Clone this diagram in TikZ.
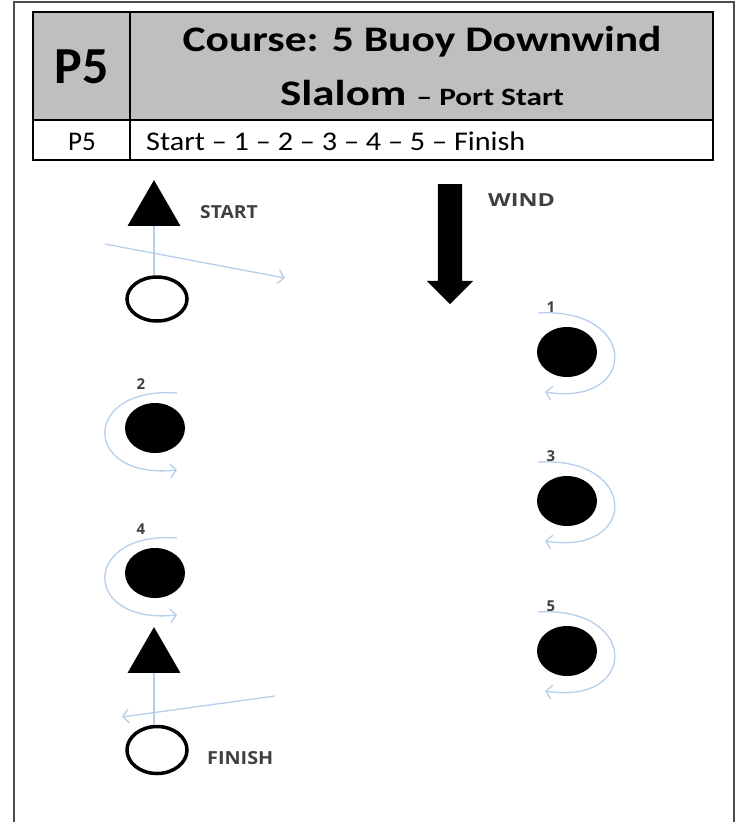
\documentclass[tikz,border=0pt]{standalone}
\usepackage{fontspec}
\setmainfont{Carlito}
\newfontfamily\markfont{Open Sans}
\usepackage{graphicx}
\usepackage{tikz}
\usetikzlibrary{shapes.geometric, shapes.arrows, arrows.meta}

\definecolor{headgray}{RGB}{191,191,191}
\definecolor{pathblue}{RGB}{180,206,236}
\definecolor{labelgray}{RGB}{64,64,64}

\newcommand{\spreadtext}[2]{\scalebox{#1}[1]{#2}}

\begin{document}
\begin{tikzpicture}[x=1pt, y=-1pt,
    buoy/.style={ellipse, fill=black, minimum width=60pt, minimum height=50pt, inner sep=0pt},
    gate/.style={ellipse, draw=black, line width=3.5pt, minimum width=60pt, minimum height=44pt, inner sep=0pt},
    flag/.style={regular polygon, regular polygon sides=3, fill=black, minimum size=61pt, inner sep=0pt},
    route/.style={draw=pathblue, line width=1.3pt, -{Straight Barb[length=6pt, width=14pt]}},
    tag/.style={font=\markfont\bfseries\fontsize{18}{18}\selectfont, text=labelgray, inner sep=0pt},
    num/.style={font=\markfont\bfseries\fontsize{15}{15}\selectfont, text=labelgray, inner sep=0pt}]

    \useasboundingbox (0,0) rectangle (737,822);
    \draw[line width=2pt, draw=black!70] (14,822) -- (14,2) -- (734,2) -- (734,822);

    \fill[headgray] (33,12) rectangle (713,120);
    \draw[line width=1.2pt] (33,12) rectangle (713,160);
    \draw[line width=1.2pt] (33,120) -- (713,120);
    \draw[line width=1.2pt] (130,12) -- (130,160);

    \node[font=\bfseries\fontsize{52}{52}\selectfont, anchor=base] (code) at (81.5,83) {P5};
    \node[font=\bfseries\fontsize{36}{36}\selectfont, anchor=base] (title) at (422,51) {\spreadtext{1.21}{Course: 5 Buoy Downwind}};
    \node[font=\bfseries\fontsize{36}{36}\selectfont, anchor=base] (subtitle) at (422,105) {\spreadtext{1.25}{Slalom {\fontsize{25}{25}\selectfont -- Port Start}}};
    \node[font=\fontsize{27}{27}\selectfont, anchor=base] (rowcode) at (82,150) {P5};
    \node[font=\fontsize{27}{27}\selectfont, anchor=base west, inner sep=0pt] (order) at (146,150) {\spreadtext{1.12}{Start -- 1 -- 2 -- 3 -- 4 -- 5 -- Finish}};

    \node[flag] (startflag) at (154,210.6) {};
    \node[tag, anchor=base west] (startlabel) at (200,218) {\spreadtext{1.07}{START}};
    \node[gate] (startgate) at (157,299) {};
    \draw[pathblue, line width=1.3pt] (startflag.side 2) -- (startflag.side 2 |- startgate.north);
    \coordinate (startA) at (105,244);
    \coordinate (startB) at (285,278);
    \draw[route] (startA) -- (startB);

    \node[single arrow, fill=black, shape border rotate=270, minimum height=120pt,
          minimum width=46pt, single arrow head extend=11pt, inner sep=12pt] (wind) at (450,238) {};
    \node[tag, anchor=base west] (windlabel) at (488,206) {\spreadtext{1.3}{WIND}};

    \node[buoy] (b1) at (567,352) {};
    \node[buoy] (b3) at (567,501) {};
    \node[buoy] (b5) at (567,651) {};
    \node[buoy] (b2) at (155,428) {};
    \node[buoy] (b4) at (155,573) {};

    \foreach \b in {1,3,5} {
        \node[num] (n\b) at ([shift={(-16,-45)}]b\b.center) {\b};
        \draw[route] ([shift={(-29,-39)}]b\b.center) .. controls ([shift={(72,-45)}]b\b.center)
            and ([shift={(72,55)}]b\b.center) .. ([shift={(-22,40)}]b\b.center);
    }
    \foreach \b in {2,4} {
        \node[num] (n\b) at ([shift={(-14,-44)}]b\b.center) {\b};
        \draw[route] ([shift={(22,-35)}]b\b.center) .. controls ([shift={(-74,-42)}]b\b.center)
            and ([shift={(-74,52)}]b\b.center) .. ([shift={(22,42)}]b\b.center);
    }

    \node[flag] (finishflag) at (154,657.6) {};
    \node[gate, minimum height=47pt] (finishgate) at (157,750) {};
    \node[tag, anchor=base west] (finishlabel) at (207,764) {\spreadtext{1.1}{FINISH}};
    \draw[pathblue, line width=1.3pt] (finishflag.side 2) -- (finishflag.side 2 |- finishgate.north);
    \coordinate (finishA) at (275,696);
    \coordinate (finishB) at (122,717);
    \draw[route] (finishA) -- (finishB);
\end{tikzpicture}
\end{document}
